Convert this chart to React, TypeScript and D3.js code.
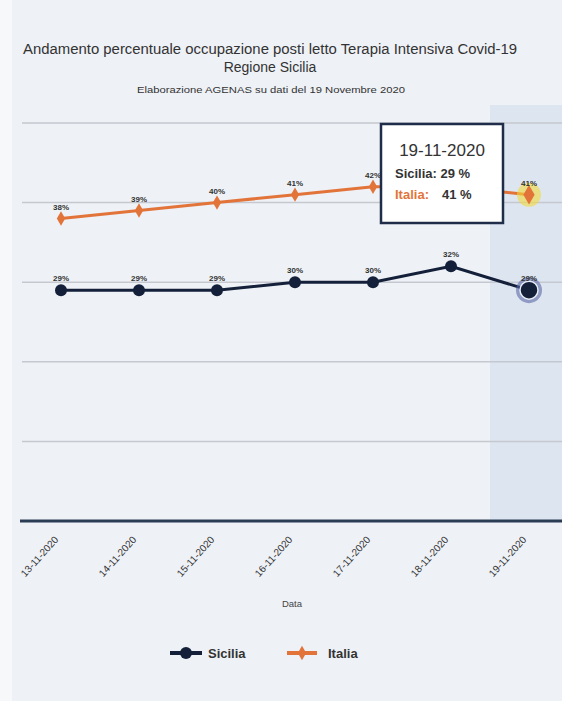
import React from "react";
import * as d3 from "d3";

const dates = ["13-11-2020", "14-11-2020", "15-11-2020", "16-11-2020", "17-11-2020", "18-11-2020", "19-11-2020"];
const sicilia = [29, 29, 29, 30, 30, 32, 29];
const italia = [38, 39, 40, 41, 42, 42, 41];
const yTicks = [10, 20, 30, 40, 50];
const seriesNames = ["Sicilia", "Italia"];

const W = 562, H = 701;
const NAVY = "#14203a";
const ORANGE = "#e2743a";

export default function App() {
  const x = d3.scaleBand<string>().domain(dates).range([22, 568]).padding(0);
  const cx = (d: string) => (x(d) as number) + x.bandwidth() / 2;
  const y = d3.scaleLinear().domain([0, 50]).range([521, 123]);

  const line = d3.line<number>().x((_, i) => cx(dates[i])).y((v) => y(v));
  const diamond = d3.symbol().type(d3.symbolDiamond).size(60)() as string;
  const last = dates.length - 1;
  const lx = cx(dates[last]);

  const tip = { x: 381, y: 124, w: 122, h: 99 };
  const inTip = (px: number, py: number) => px > tip.x && px < tip.x + tip.w && py > tip.y && py < tip.y + tip.h;

  return (
    <svg width={W} height={H} style={{ position: "absolute", left: 0, top: 0, fontFamily: "Liberation Sans, Arial, sans-serif" }}>
      <rect x={0} y={0} width={W} height={H} fill="#eef1f6" />
      <rect x={0} y={0} width={12} height={H} fill="#f7f8fa" />
      <rect x={x(dates[last]) as number} y={105} width={x.bandwidth()} height={521 - 105} fill="#dde5f0" />
      <text x={270} y={54} textAnchor="middle" fontSize={14} fill="#333" textLength={494} lengthAdjust="spacingAndGlyphs">
        Andamento percentuale occupazione posti letto Terapia Intensiva Covid-19
      </text>
      <text x={270} y={72} textAnchor="middle" fontSize={14} fill="#333">Regione Sicilia</text>
      <text x={271} y={93} textAnchor="middle" fontSize={9} fill="#333" textLength={268} lengthAdjust="spacingAndGlyphs">
        Elaborazione AGENAS su dati del 19 Novembre 2020
      </text>
      {yTicks.map((t) => (
        <line key={t} x1={22} x2={W} y1={y(t)} y2={y(t)} stroke="#c5c9cf" strokeWidth={1.5} />
      ))}
      <line x1={20} x2={W} y1={521} y2={521} stroke="#2a3d55" strokeWidth={3} />
      {dates.map((d) => (
        <text key={d} transform={`translate(${cx(d) - 2},${540}) rotate(-48)`} textAnchor="end" fontSize={10} fill="#333">
          {d}
        </text>
      ))}
      <text x={292} y={607} textAnchor="middle" fontSize={9.5} fill="#444">Data</text>

      <path d={line(italia) as string} fill="none" stroke={ORANGE} strokeWidth={3} />
      <path d={line(sicilia) as string} fill="none" stroke={NAVY} strokeWidth={3} />
      {italia.map((v, i) => (
        <path key={"im" + i} d={diamond} transform={`translate(${cx(dates[i])},${y(v)})`} fill={ORANGE} />
      ))}
      {sicilia.map((v, i) => (
        <circle key={"sm" + i} cx={cx(dates[i])} cy={y(v)} r={6} fill={NAVY} />
      ))}
      <circle cx={lx} cy={y(italia[last])} r={12} fill="#f3d83a" opacity={0.6} />
      <path d={d3.symbol().type(d3.symbolDiamond).size(110)() as string} transform={`translate(${lx},${y(italia[last])})`} fill={ORANGE} />
      <circle cx={lx} cy={y(sicilia[last])} r={13} fill="#5b68a8" opacity={0.6} />
      <circle cx={lx} cy={y(sicilia[last])} r={9} fill={NAVY} stroke="#e8ecf5" strokeWidth={1.5} />

      {italia.map((v, i) =>
        inTip(cx(dates[i]), y(v) - 9) ? null : (
          <text key={"il" + i} x={cx(dates[i])} y={y(v) - 9} textAnchor="middle" fontSize={8} fontWeight="bold" fill="#333">
            {v}%
          </text>
        )
      )}
      {sicilia.map((v, i) => (
        <text key={"sl" + i} x={cx(dates[i])} y={y(v) - 9} textAnchor="middle" fontSize={8} fontWeight="bold" fill="#333">
          {v}%
        </text>
      ))}

      <g transform={`translate(${tip.x},${tip.y})`}>
        <rect x={0} y={0} width={tip.w} height={tip.h} fill="#ffffff" stroke="#1f2c4a" strokeWidth={2.5} />
        <text x={61} y={32} textAnchor="middle" fontSize={17} fill="#333">{dates[last]}</text>
        <text x={14} y={54} fontSize={13} fontWeight="bold" fill="#333">{seriesNames[0]}: {sicilia[last]} %</text>
        <text x={14} y={75} fontSize={13} fontWeight="bold" fill={ORANGE}>{seriesNames[1]}:</text>
        <text x={61} y={75} fontSize={13} fontWeight="bold" fill="#333">{italia[last]} %</text>
      </g>

      <g transform="translate(170,653)">
        <line x1={0} x2={32} y1={0} y2={0} stroke={NAVY} strokeWidth={4} />
        <circle cx={16} cy={0} r={6} fill={NAVY} />
        <text x={38} y={5} fontSize={13} fontWeight="bold" fill="#333">{seriesNames[0]}</text>
        <line x1={117} x2={147} y1={0} y2={0} stroke={ORANGE} strokeWidth={4} />
        <path d={diamond} transform="translate(132,0)" fill={ORANGE} />
        <text x={158} y={5} fontSize={13} fontWeight="bold" fill="#333">{seriesNames[1]}</text>
      </g>
    </svg>
  );
}
